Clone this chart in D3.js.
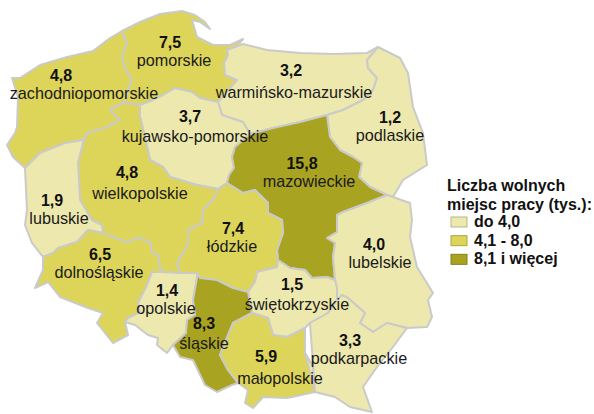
<!DOCTYPE html>
<html>
<head>
<meta charset="utf-8">
<script src="https://cdn.jsdelivr.net/npm/d3@7"></script>
<style>
  html, body { margin: 0; padding: 0; background: #fff; }
  svg { display: block; }
  text { font-family: "Liberation Sans", Arial, sans-serif; fill: #1a1a1a; }
  .value { font-weight: bold; font-size: 16px; text-anchor: middle; fill: #111; }
  .name { font-size: 16.2px; text-anchor: middle; }
  .legend { font-weight: bold; font-size: 16px; fill: #111; }
</style>
</head>
<body>
<div id="chart"></div>
<script>
// 1. Data

const regionNames = ["zachodniopomorskie", "pomorskie", "warmińsko-mazurskie", "kujawsko-pomorskie", "podlaskie",
    "mazowieckie", "wielkopolskie", "lubuskie", "łódzkie", "lubelskie", "dolnośląskie", "opolskie",
    "świętokrzyskie", "śląskie", "małopolskie", "podkarpackie"];
const regionValues = [4.8, 7.5, 3.2, 3.7, 1.2, 15.8, 4.8, 1.9, 7.4, 4.0, 6.5, 1.4, 1.5, 8.3, 5.9, 3.3];

const legendTitle = ["Liczba wolnych", "miejsc pracy (tys.):"];
const legendLabels = ["do 4,0", "4,1 - 8,0", "8,1 i więcej"];
const classBreaks = [4.05, 8.05];
const classColors = ["#ece8ae", "#ddd55a", "#a9a322"];

const borders = {
    coastZach: [[12,78],[20,78],[40,65],[67,57],[93,51],[110,38],[122,31]],
    coastPom: [[122,31],[140,22],[160,14],[182,11],[195,15],[205,22],[210,29],[200,22],[192,20],[197,37],[213,45],[230,45],[243,39],[238,45],[227,50]],
    pomWarm: [[227,50],[228,55],[224,63],[225,75],[237,80],[230,88],[218,102]],
    coastWarm: [[227,50],[243,44],[267,50],[300,53],[333,54],[367,53],[378,47]],
    warmPod: [[378,47],[367,60],[368,68],[377,78],[373,90],[363,100],[343,110],[327,115]],
    eastPod: [[378,47],[400,58],[408,73],[413,107],[423,133],[427,165],[403,180],[393,197],[387,195]],
    podMaz: [[327,115],[330,137],[340,150],[353,157],[362,163],[359,177],[370,187],[387,195]],
    warmMaz: [[327,115],[300,122],[273,128],[250,134]],
    warmKuj: [[218,102],[222,115],[243,122],[250,134]],
    kujMaz: [[250,134],[235,147],[232,157],[234,168],[229,175],[227,183]],
    kujLod: [[227,183],[218,189]],
    kujWlk: [[218,189],[197,185],[170,177],[163,167],[150,160],[145,137],[140,117],[140,105]],
    pomKuj: [[140,105],[153,100],[163,95],[175,88],[192,92],[200,98],[218,102]],
    zachPom: [[122,31],[127,43],[122,57],[125,68],[132,80],[125,98],[125,102]],
    pomWlk: [[125,102],[127,103],[140,105]],
    zachWlk: [[125,102],[110,110],[120,120],[105,128],[87,133]],
    zachLub: [[87,133],[83,140],[65,143],[40,153],[25,168]],
    coastWest: [[25,168],[13,157],[7,145],[15,133],[17,127],[18,97],[12,78]],
    lubWlk: [[87,133],[83,143],[78,163],[80,200],[92,220],[102,225],[103,233]],
    lubWest: [[25,168],[27,210],[25,225],[32,243],[43,257]],
    lubDol: [[43,257],[53,253],[58,248],[77,242],[88,230],[103,233]],
    wlkDol: [[103,233],[115,238],[127,242],[138,238],[150,242],[152,253],[158,255],[160,268],[163,272]],
    wlkOpo: [[163,272],[180,273]],
    wlkLod: [[180,273],[177,263],[188,245],[188,230],[202,223],[203,210],[213,200],[218,189]],
    dolOpo: [[163,272],[152,272],[147,285],[138,303],[140,312],[128,318],[125,322]],
    dolSouth: [[43,257],[43,270],[35,288],[48,282],[60,297],[88,308],[103,313],[97,323],[113,343],[128,335],[125,322]],
    opoSouth: [[125,322],[135,325],[148,335],[158,338],[157,345],[167,353],[173,345]],
    opoSl: [[173,345],[186,333],[187,320],[195,315],[193,300],[197,278],[197,273]],
    opoLod: [[180,273],[197,273]],
    slLod: [[197,273],[200,278],[217,280],[233,288],[248,292]],
    slSw: [[248,292],[252,313]],
    slMal: [[252,313],[233,323],[220,355],[228,370],[238,383]],
    slSouth: [[173,345],[180,357],[193,360],[205,385],[217,392],[232,385],[238,383]],
    lodMaz: [[227,183],[243,193],[255,190],[268,203],[268,213],[282,220],[283,233],[277,250],[278,260]],
    lodSw: [[278,260],[277,267],[257,272],[255,282],[248,292]],
    mazSw: [[278,260],[290,268],[305,270],[312,278],[327,277],[335,280]],
    mazLub: [[335,280],[333,257],[335,243],[327,238],[337,232],[337,215],[343,212],[367,203],[387,195]],
    swLub: [[335,280],[337,288],[337,300]],
    swPodk: [[337,300],[328,313],[310,323],[305,328]],
    swMal: [[305,328],[287,337],[273,335],[268,318],[252,313]],
    malPodk: [[305,328],[305,353],[313,367],[315,392]],
    malSouth: [[315,392],[287,398],[263,397],[253,408],[245,403],[248,390],[238,383]],
    lubPodk: [[337,300],[342,295],[348,298],[365,313],[360,323],[373,332],[387,323],[407,328]],
    lubEast: [[387,195],[393,197],[410,203],[412,220],[410,237],[417,267],[433,293],[428,300],[432,317],[427,327],[407,328]],
    podkSouth: [[407,328],[393,347],[377,367],[363,387],[372,412],[350,407],[335,397],[315,392]]
};

// a leading "-" means the border is walked backwards
const regionRings = [
    ["coastZach", "zachPom", "zachWlk", "zachLub", "coastWest"],
    ["coastPom", "pomWarm", "-pomKuj", "-pomWlk", "-zachPom"],
    ["coastWarm", "warmPod", "warmMaz", "-warmKuj", "-pomWarm"],
    ["pomKuj", "warmKuj", "kujMaz", "kujLod", "kujWlk"],
    ["eastPod", "-podMaz", "-warmPod"],
    ["-warmMaz", "podMaz", "-mazLub", "-mazSw", "-lodMaz", "-kujMaz"],
    ["pomWlk", "-kujWlk", "-wlkLod", "-wlkOpo", "-wlkDol", "-lubWlk", "-zachWlk"],
    ["zachLub", "lubWest", "lubDol", "-lubWlk"],
    ["-kujLod", "lodMaz", "lodSw", "-slLod", "-opoLod", "wlkLod"],
    ["mazLub", "lubEast", "-lubPodk", "-swLub"],
    ["lubDol", "wlkDol", "dolOpo", "-dolSouth"],
    ["wlkOpo", "opoLod", "-opoSl", "-opoSouth", "-dolOpo"],
    ["mazSw", "swLub", "swPodk", "swMal", "-slSw", "-lodSw"],
    ["slLod", "slSw", "slMal", "-slSouth", "opoSl"],
    ["swMal", "slMal", "-malSouth", "-malPodk"],
    ["lubPodk", "podkSouth", "malPodk", "-swPodk"]
];

// label anchors, same order as regionNames: value x, value y, name x, name y
const labelAnchors = [
    [61,81,84,99],[170,48,174,66],[291,76,294,98],[190,122,195,142],[390,123,390,141],[302,169,309,187],
    [127,178,140,199],[52,206,59,224],[233,234,232,252],[374,250,380,268],[100,260,99,278],[167,296,166,314],
    [292,290,297,310],[204,329,204,349],[266,362,280,384],[350,346,359,364]
];

// 3. Canvas, scales

const width = 594;
const height = 414;

const svg = d3.select("#chart")
    .append("svg")
    .attr("width", width)
    .attr("height", height);

const colorScale = d3.scaleThreshold()
    .domain(classBreaks)
    .range(classColors);

const projection = d3.geoIdentity();
const path = d3.geoPath(projection);

function ringOf(list) {
    let ring = [];
    list.forEach(function(key) {
        const pts = key[0] === "-" ? borders[key.slice(1)].slice().reverse() : borders[key];
        ring = ring.concat(ring.length ? pts.slice(1) : pts);
    });
    return ring;
}

const features = regionNames.map(function(name, i) {
    return {
        type: "Feature",
        properties: { name: name, value: regionValues[i], anchor: labelAnchors[i] },
        geometry: { type: "Polygon", coordinates: [ringOf(regionRings[i])] }
    };
});

// 4. Draw the regions

svg.selectAll("path.region")
    .data(features)
    .enter()
    .append("path")
        .attr("class", "region")
        .attr("d", path)
        .attr("fill", function(d) { return colorScale(d.properties.value); })
        .attr("stroke", "#cacac8")
        .attr("stroke-width", 2)
        .attr("stroke-linejoin", "round");

// 5. Labels

svg.selectAll("text.value")
    .data(features)
    .enter()
    .append("text")
        .attr("class", "value")
        .attr("x", function(d) { return d.properties.anchor[0]; })
        .attr("y", function(d) { return d.properties.anchor[1]; })
        .text(function(d) { return d3.format(".1f")(d.properties.value).replace(".", ","); });

svg.selectAll("text.name")
    .data(features)
    .enter()
    .append("text")
        .attr("class", "name")
        .attr("x", function(d) { return d.properties.anchor[2]; })
        .attr("y", function(d) { return d.properties.anchor[3]; })
        .text(function(d) { return d.properties.name; });

// 6. Legend

svg.selectAll("text.title")
    .data(legendTitle)
    .enter()
    .append("text")
        .attr("class", "legend title")
        .attr("x", 447)
        .attr("y", function(d, i) { return 191 + i * 19; })
        .text(function(d) { return d; });

const legendRow = d3.scaleBand()
    .domain(legendLabels)
    .range([213, 269]);

svg.selectAll("rect.swatch")
    .data(legendLabels)
    .enter()
    .append("rect")
        .attr("class", "swatch")
        .attr("x", 451)
        .attr("y", function(d) { return legendRow(d) + 4; })
        .attr("width", 16)
        .attr("height", 10)
        .attr("fill", function(d, i) { return classColors[i]; })
        .attr("stroke", function(d, i) { return d3.color(classColors[i]).darker(0.7); })
        .attr("stroke-width", 1);

svg.selectAll("text.entry")
    .data(legendLabels)
    .enter()
    .append("text")
        .attr("class", "legend entry")
        .attr("x", 474)
        .attr("y", function(d) { return legendRow(d) + 14; })
        .text(function(d) { return d; });
</script>
</body>
</html>
